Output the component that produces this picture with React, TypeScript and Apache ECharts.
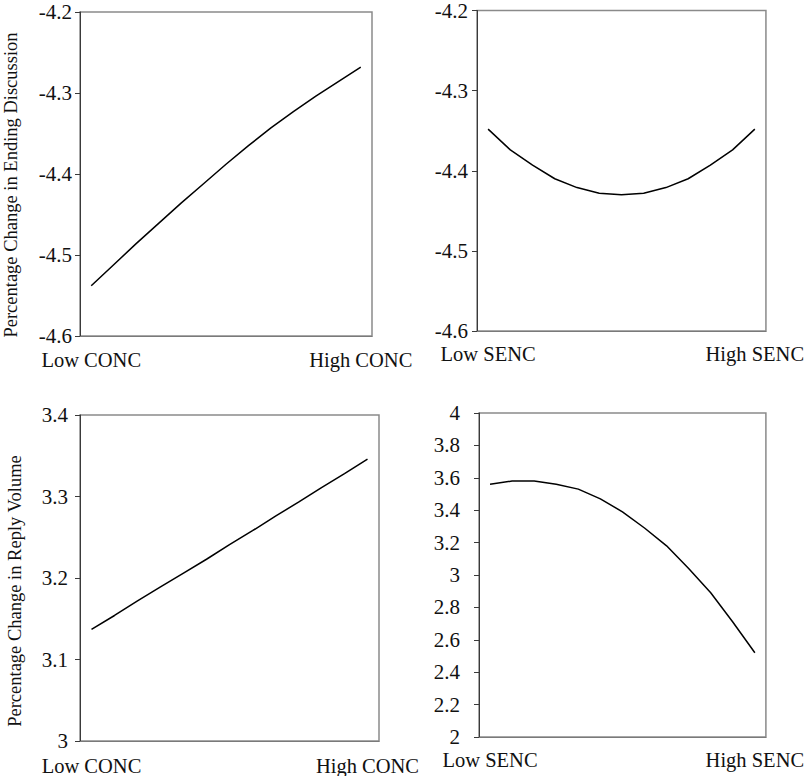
import React, { useEffect, useRef } from "react";
import * as echarts from "echarts";

const concCategories = ["Low CONC", "", "", "", "", "", "", "", "", "", "", "", "High CONC"];
const sencCategories = ["Low SENC", "", "", "", "", "", "", "", "", "", "", "", "High SENC"];

const endingConc = [-4.538, -4.512, -4.486, -4.461, -4.436, -4.412, -4.388, -4.365, -4.343, -4.323, -4.304, -4.286, -4.268];
const endingSenc = [-4.348, -4.374, -4.393, -4.410, -4.421, -4.428, -4.430, -4.428, -4.421, -4.410, -4.393, -4.374, -4.348];
const replyConc = [3.137, 3.154, 3.172, 3.189, 3.206, 3.223, 3.241, 3.258, 3.276, 3.293, 3.311, 3.328, 3.346];
const replySenc = [3.56, 3.58, 3.58, 3.56, 3.53, 3.47, 3.39, 3.29, 3.18, 3.04, 2.89, 2.71, 2.52];

const yTitleEnding = "Percentage Change in Ending Discussion";
const yTitleReply = "Percentage Change in Reply Volume";

const FONT = "'Liberation Serif', 'Times New Roman', serif";

export default function App() {
  const ref = useRef<HTMLDivElement>(null);
  useEffect(() => {
    if (!ref.current) return;
    const chart = echarts.init(ref.current, null, { renderer: "svg" });
    const grids = [
      { left: 80, top: 12, width: 292, height: 324 },
      { left: 477, top: 10, width: 291, height: 321 },
      { left: 80, top: 415, width: 299, height: 327 },
      { left: 479, top: 413, width: 290, height: 324 },
    ];
    const yConf = [
      { min: -4.6, max: -4.2, interval: 0.1, margin: 8 },
      { min: -4.6, max: -4.2, interval: 0.1, margin: 9 },
      { min: 3, max: 3.4, interval: 0.1, margin: 12 },
      { min: 2, max: 4, interval: 0.2, margin: 19 },
    ];
    const cats = [concCategories, sencCategories, concCategories, sencCategories];
    const xMargins = [13, 12, 14, 12];
    const data = [endingConc, endingSenc, replyConc, replySenc];
    const option: any = {
      animation: false,
      backgroundColor: "#fff",
      grid: grids.map((g) => ({
        ...g,
        show: true,
        borderColor: "#8a8a8a",
        borderWidth: 1.5,
        containLabel: false,
      })),
      xAxis: cats.map((c, i) => ({
        type: "category",
        gridIndex: i,
        data: c,
        boundaryGap: true,
        axisLine: { show: true, lineStyle: { color: "#7a7a7a", width: 1.2 } },
        axisTick: { show: false },
        splitLine: { show: false },
        axisLabel: {
          interval: 0,
          margin: xMargins[i],
          fontSize: 20.5,
          color: "#111",
          fontFamily: FONT,
        },
      })),
      yAxis: yConf.map((y, i) => ({
        type: "value",
        gridIndex: i,
        min: y.min,
        max: y.max,
        interval: y.interval,
        axisLine: { show: true, lineStyle: { color: "#3a3a3a", width: 1 } },
        axisTick: { show: true, length: 5, lineStyle: { color: "#3a3a3a" } },
        splitLine: { show: false },
        axisLabel: {
          margin: y.margin,
          fontSize: 21,
          color: "#111",
          fontFamily: FONT,
          formatter: (v: number) => String(Math.round(v * 10) / 10),
        },
      })),
      series: data.map((d, i) => ({
        type: "line",
        xAxisIndex: i,
        yAxisIndex: i,
        data: d,
        symbol: "none",
        smooth: false,
        lineStyle: { color: "#000", width: 1.5 },
      })),
      graphic: [
        {
          type: "text",
          x: 11,
          y: 185,
          rotation: Math.PI / 2,
          style: {
            text: yTitleEnding,
            align: "center",
            verticalAlign: "middle",
            fontSize: 18.5,
            fontFamily: FONT,
            fill: "#111",
          },
        },
        {
          type: "text",
          x: 15,
          y: 591,
          rotation: Math.PI / 2,
          style: {
            text: yTitleReply,
            align: "center",
            verticalAlign: "middle",
            fontSize: 18.5,
            fontFamily: FONT,
            fill: "#111",
          },
        },
      ],
    };
    chart.setOption(option);
    return () => chart.dispose();
  }, []);
  return (
    <div
      ref={ref}
      style={{ position: "absolute", left: 0, top: 0, width: 807, height: 776, background: "#fff" }}
    />
  );
}
